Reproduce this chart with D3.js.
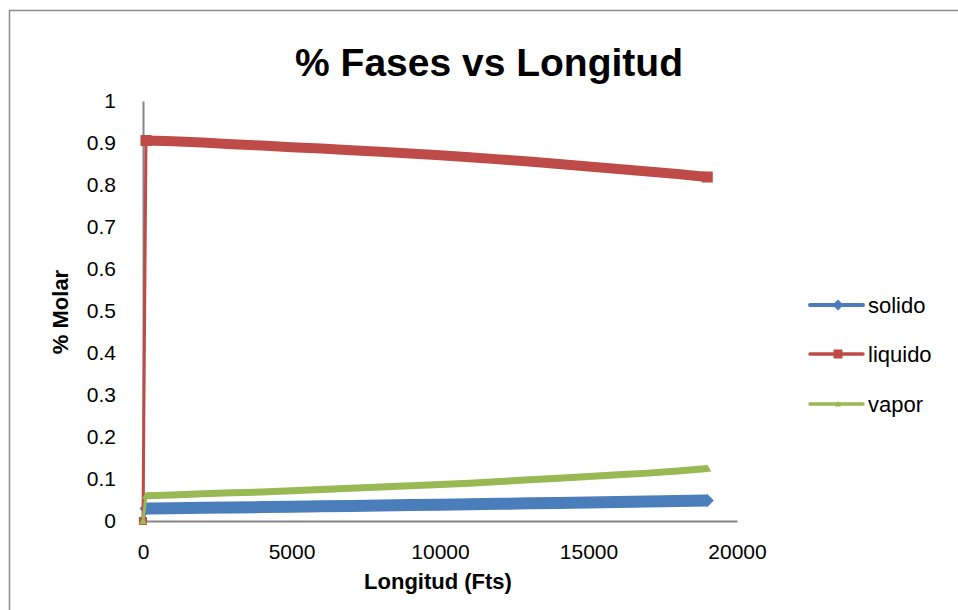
<!DOCTYPE html>
<html>
<head>
<meta charset="utf-8">
<script src="https://cdn.jsdelivr.net/npm/d3@7"></script>
<style>
  body { margin: 0; background: #fff; }
  svg { display: block; font-family: "Liberation Sans", Arial, sans-serif; }
</style>
</head>
<body>
<svg id="chart" width="958" height="610"></svg>
<script>
// longitud (ft) and molar fractions
const longitud = [0, 100, 1000, 2000, 3000, 4000, 5000, 6000, 7000, 8000, 9000,
    10000, 11000, 12000, 13000, 14000, 15000, 16000, 17000, 18000, 19000];
const solido = [0, 0.0300, 0.0306, 0.0314, 0.0322, 0.0331, 0.0340, 0.0349, 0.0358, 0.0368, 0.0378,
    0.0388, 0.0398, 0.0409, 0.0420, 0.0431, 0.0442, 0.0454, 0.0466, 0.0478, 0.0490];
const liquido = [0, 0.906, 0.904, 0.901, 0.897, 0.894, 0.890, 0.887, 0.883, 0.879, 0.875,
    0.871, 0.866, 0.861, 0.856, 0.850, 0.844, 0.838, 0.832, 0.826, 0.819];
const vapor = [0, 0.060, 0.062, 0.065, 0.067, 0.069, 0.072, 0.075, 0.078, 0.081, 0.084,
    0.087, 0.090, 0.094, 0.098, 0.102, 0.106, 0.110, 0.114, 0.119, 0.125];

const xTicks = [0, 5000, 10000, 15000, 20000];
const yTicks = [0, 0.1, 0.2, 0.3, 0.4, 0.5, 0.6, 0.7, 0.8, 0.9, 1];

const series = [
    { name: "solido", values: solido, color: "#4a7ebb", band: 12, marker: "diamond" },
    { name: "liquido", values: liquido, color: "#be4b48", band: 10, marker: "square" },
    { name: "vapor", values: vapor, color: "#98b954", band: 7, marker: "triangle" }
];

const svg = d3.select("#chart");

// outer chart frame
svg.append("rect")
    .attr("x", 9.5).attr("y", 10.5)
    .attr("width", 1000).attr("height", 700)
    .attr("fill", "none")
    .attr("stroke", "#8c8c8c")
    .attr("stroke-width", 1.5);

const x = d3.scaleLinear().domain([0, 20000]).range([143, 737]);
const y = d3.scaleLinear().domain([0, 1]).range([521, 101]);

// axes (no tick marks, Excel style)
const xAxis = svg.append("g")
    .attr("transform", `translate(0,${y(0)})`)
    .call(d3.axisBottom(x).tickValues(xTicks).tickSize(0).tickPadding(23).tickFormat(d3.format("d")));
xAxis.select(".domain").attr("stroke", "#868686").attr("stroke-width", 2);
xAxis.selectAll("text").attr("font-size", 21).attr("fill", "#000")
    .attr("font-family", "Liberation Sans, Arial, sans-serif");

const yAxis = svg.append("g")
    .attr("transform", `translate(${x(0)},0)`)
    .call(d3.axisLeft(y).tickValues(yTicks).tickSize(0).tickPadding(27).tickFormat(d => d === 0 || d === 1 ? d : d.toFixed(1)));
yAxis.select(".domain").attr("stroke", "#868686").attr("stroke-width", 2);
yAxis.selectAll("text").attr("font-size", 21).attr("fill", "#000")
    .attr("font-family", "Liberation Sans, Arial, sans-serif");

// marker shapes, r = half size
function markerPath(kind, r) {
    const p = d3.path();
    if (kind === "diamond") {
        p.moveTo(0, -r); p.lineTo(r, 0); p.lineTo(0, r); p.lineTo(-r, 0);
    } else if (kind === "square") {
        p.rect(-r, -r, 2 * r, 2 * r);
    } else {
        p.moveTo(0, -r); p.lineTo(r, r * 0.8); p.lineTo(-r, r * 0.8);
    }
    p.closePath();
    return p.toString();
}

const line = d3.line().x(d => x(d[0])).y(d => y(d[1]));

const plot = svg.append("g");
series.forEach(s => {
    const pts = longitud.map((l, i) => [l, s.values[i]]);
    const g = plot.append("g");
    // thin connecting line over every point
    g.append("path")
        .attr("d", line(pts))
        .attr("fill", "none")
        .attr("stroke", s.color)
        .attr("stroke-width", 3)
        .attr("stroke-linejoin", "round");
    // dense markers merge into a thick band
    g.append("path")
        .attr("d", line(pts.slice(1)))
        .attr("fill", "none")
        .attr("stroke", s.color)
        .attr("stroke-width", s.band)
        .attr("stroke-linejoin", "round");
    // markers at the ends of the band and at the origin
    const ends = [pts[0], pts[1], pts[pts.length - 1]];
    g.selectAll("path.mk")
        .data(ends)
        .join("path")
        .attr("class", "mk")
        .attr("transform", d => `translate(${x(d[0])},${y(d[1])})`)
        .attr("d", (d, i) => markerPath(s.marker, i === 0 ? 4 : s.band / 2 + 0.5))
        .attr("fill", s.color);
});

// title
svg.append("text")
    .attr("x", 489).attr("y", 76)
    .attr("text-anchor", "middle")
    .attr("font-size", 39).attr("font-weight", "bold")
    .text("% Fases vs Longitud");

// axis titles
svg.append("text")
    .attr("x", 438).attr("y", 589)
    .attr("text-anchor", "middle")
    .attr("font-size", 22).attr("font-weight", "bold")
    .text("Longitud (Fts)");

svg.append("text")
    .attr("transform", "translate(68,312) rotate(-90)")
    .attr("text-anchor", "middle")
    .attr("font-size", 22).attr("font-weight", "bold")
    .text("% Molar");

// legend
const legendY = [305, 354, 404];
const legendR = [5.5, 4.5, 3];
const lg = svg.append("g");
series.forEach((s, i) => {
    const ly = legendY[i];
    lg.append("line")
        .attr("x1", 810).attr("x2", 863)
        .attr("y1", ly).attr("y2", ly)
        .attr("stroke", s.color)
        .attr("stroke-width", i === 0 ? 4 : 3.5)
        .attr("stroke-linecap", "round");
    lg.append("path")
        .attr("transform", `translate(838,${ly})`)
        .attr("d", markerPath(s.marker, legendR[i]))
        .attr("fill", s.color);
    lg.append("text")
        .attr("x", 868).attr("y", ly + 8)
        .attr("font-size", 22)
        .text(s.name);
});
</script>
</body>
</html>
